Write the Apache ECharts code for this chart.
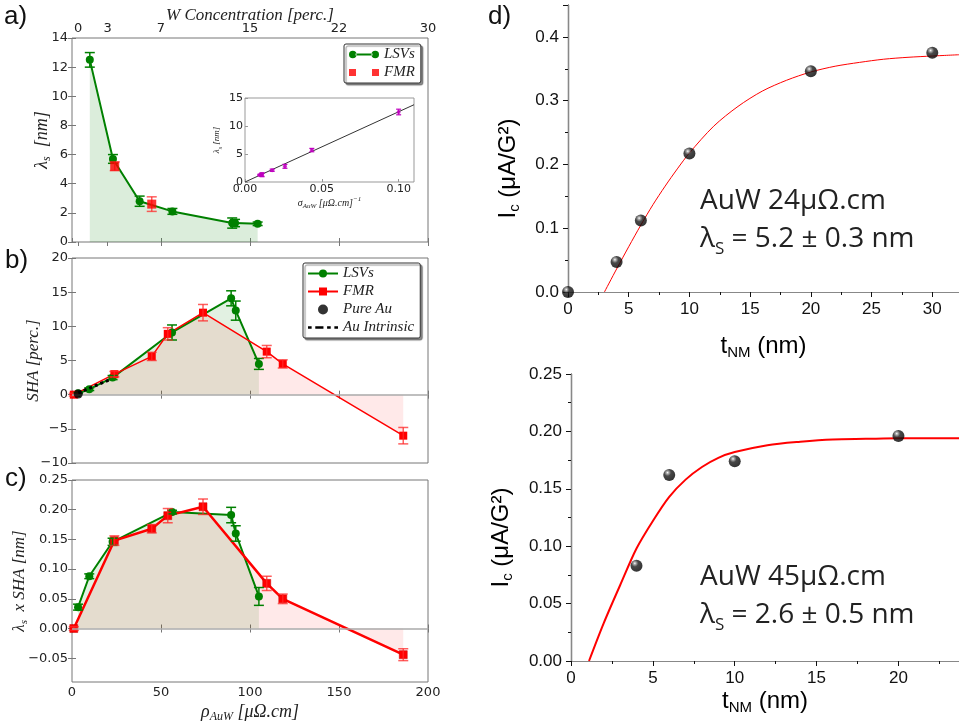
<!DOCTYPE html>
<html><head><meta charset="utf-8">
<script src="https://cdn.jsdelivr.net/npm/echarts@6/dist/echarts.min.js"></script>
<style>html,body{margin:0;padding:0;background:#fff}#c{width:959px;height:724px}</style>
</head><body><div id="c"></div>
<script>
// ---------------- data ----------------
const topTickPos = [3.4, 20, 50, 100, 150, 200];
const topTickLabels = ['0', '3', '7', '15', '22', '30'];

// panel a : spin diffusion length vs resistivity
const lsvRhoA = [10, 23, 38, 56.4, 90, 91.6, 104.3];
const lsvLambda = [12.5, 5.7, 2.8, 2.1, 1.3, 1.3, 1.25];
const lsvLambdaErr = [0.5, 0.3, 0.35, 0.2, 0.35, 0.25, 0.12];
const fmrRhoA = [24, 44.8];
const fmrLambda = [5.2, 2.6];
const fmrLambdaErr = [0.3, 0.5];

// inset : lambda vs conductivity
const insetSigma = [0.0096, 0.0109, 0.0111, 0.0177, 0.026, 0.0435, 0.1];
const insetLambda = [1.25, 1.3, 1.3, 2.1, 2.8, 5.7, 12.5];
const insetErr = [0.12, 0.25, 0.35, 0.2, 0.35, 0.3, 0.5];
const insetFitSigma = [0, 0.11];
const insetFitLambda = [0, 13.8];

// panels b & c
const lsvRho = [3.4, 9.7, 22.8, 56.2, 89.4, 92, 105];
const lsvSha = [0.2, 0.8, 2.5, 9.1, 14.1, 12.3, 4.5];
const lsvShaErr = [0.1, 0.2, 0.3, 1.1, 1.1, 1.4, 0.8];
const fmrRho = [1, 23.8, 44.8, 53.8, 73.6, 109.4, 118.4, 186.1];
const fmrSha = [0, 3.0, 5.6, 8.9, 12.0, 6.3, 4.5, -6.0];
const fmrShaErr = [0.2, 0.4, 0.6, 0.9, 1.2, 0.9, 0.6, 1.2];
const pureAuRho = [3.5];
const pureAuSha = [0.1];
const intrinsicRho = [3.5, 21.3];
const intrinsicSha = [0.25, 2.2];

const lsvProd = [0.036, 0.088, 0.146, 0.196, 0.191, 0.160, 0.054];
const lsvProdErr = [0.005, 0.004, 0.006, 0.003, 0.013, 0.013, 0.015];
const fmrProd = [0.000, 0.148, 0.168, 0.190, 0.205, 0.076, 0.050, -0.044];
const fmrProdErr = [0.003, 0.008, 0.007, 0.012, 0.013, 0.012, 0.008, 0.010];
const cTicks = [-0.05, 0, 0.05, 0.10, 0.15, 0.20, 0.25];

// panel d : AuW 24
const dThk = [0, 4, 6, 10, 20, 30];
const dIc = [0.0, 0.047, 0.112, 0.217, 0.346, 0.375];
const dFitT = [3, 4, 5, 6, 7, 8, 9, 10, 12, 14, 16, 18, 20, 22, 24, 26, 28, 30, 32.2];
const dFitIc = [0, 0.036, 0.071, 0.105, 0.137, 0.166, 0.193, 0.218, 0.260, 0.291, 0.315, 0.332, 0.345, 0.354, 0.360, 0.365, 0.368, 0.370, 0.372];

// panel e : AuW 45
const eThk = [4, 6, 10, 20];
const eIc = [0.083, 0.162, 0.174, 0.196];
const eFitT = [1.1, 2, 3, 4, 5, 6, 7, 8, 9, 10, 12, 14, 16, 18, 20, 23.7];
const eFitIc = [0, 0.033, 0.066, 0.098, 0.122, 0.143, 0.158, 0.169, 0.177, 0.182, 0.188, 0.191, 0.193, 0.1935, 0.194, 0.194];

// ---------------- helpers ----------------
const zip = (xs, ys) => xs.map((x, i) => [x, ys[i]]);
const zip3 = (xs, ys, es) => xs.map((x, i) => [x, ys[i], es[i]]);
const GREEN = '#008000', RED = '#ff0000', MAG = '#bf00bf';
const SPINE = '#777';
const serif = 'Liberation Serif';
const tickFont = {fontFamily: 'DejaVu Sans', fontSize: 13, color: '#222'};
const minus = s => String(s).replace('-', '\u2212');

function errSeries(xi, yi, xs, ys, es, color, cap, width, z) {
  return {
    type: 'custom', xAxisIndex: xi, yAxisIndex: yi, z: z, silent: true,
    data: zip3(xs, ys, es), encode: {x: 0, y: 1},
    renderItem: function (params, api) {
      const x = api.value(0), y = api.value(1), e = api.value(2);
      const t = api.coord([x, y + e]), b = api.coord([x, y - e]);
      const st = {stroke: color, lineWidth: width};
      return {type: 'group', children: [
        {type: 'line', shape: {x1: t[0], y1: t[1], x2: b[0], y2: b[1]}, style: st},
        {type: 'line', shape: {x1: t[0] - cap, y1: t[1], x2: t[0] + cap, y2: t[1]}, style: st},
        {type: 'line', shape: {x1: b[0] - cap, y1: b[1], x2: b[0] + cap, y2: b[1]}, style: st}
      ]};
    }
  };
}

function leftX(grid, opts) {
  return Object.assign({
    type: 'value', gridIndex: grid, min: 0, max: 200, interval: 50, nameMoveOverlap: false,
    axisLine: {show: false}, splitLine: {show: false},
    axisTick: {inside: true, length: 4, lineStyle: {color: SPINE}},
    axisLabel: {show: false}
  }, opts || {});
}
function leftY(grid, opts) {
  return Object.assign({
    type: 'value', gridIndex: grid, nameMoveOverlap: false,
    axisLine: {show: false}, splitLine: {show: false},
    axisTick: {inside: true, length: 4, lineStyle: {color: SPINE}},
    axisLabel: Object.assign({margin: 4}, tickFont)
  }, opts || {});
}

const italicRich = (size) => ({
  i: {fontFamily: serif, fontStyle: 'italic', fontWeight: 'normal', fontSize: size, lineHeight: size + 4, color: '#222'},
  sub: {fontFamily: serif, fontStyle: 'italic', fontWeight: 'normal', fontSize: Math.round(size * 0.65), lineHeight: Math.round(size * 0.6), verticalAlign: 'bottom', color: '#222'},
  sup: {fontFamily: serif, fontStyle: 'italic', fontWeight: 'normal', fontSize: Math.round(size * 0.65), lineHeight: Math.round(size * 0.6), verticalAlign: 'top', color: '#222'}
});
const sansRich = (size) => ({
  m: {fontFamily: 'Liberation Sans', fontWeight: 'normal', fontSize: size, lineHeight: size + 4, color: '#000'},
  sub: {fontFamily: 'Liberation Sans', fontWeight: 'normal', fontSize: Math.round(size * 0.62), lineHeight: Math.round(size * 0.5), verticalAlign: 'bottom', color: '#000'}
});
const noteRich = {
  m: {fontFamily: 'Open Sans', fontWeight: 'normal', fontSize: 28, lineHeight: 38, color: '#222'},
  sub: {fontFamily: 'Open Sans', fontWeight: 'normal', fontSize: 17, lineHeight: 12, verticalAlign: 'bottom', color: '#222'}
};
const panelFont = {fontSize: 26, fontWeight: 'normal', fontFamily: 'Liberation Sans', color: '#111'};

const ball = {type: 'radial', x: 0.36, y: 0.3, r: 0.72, colorStops: [
  {offset: 0, color: '#ffffff'}, {offset: 0.14, color: '#999'}, {offset: 0.4, color: '#1a1a1a'}, {offset: 1, color: '#000'}]};

const darkAxis = {lineStyle: {color: '#111', width: 1.2}};
const grayAxis = {lineStyle: {color: '#888', width: 1.2}};
const rightFont = {fontFamily: 'Liberation Sans', fontSize: 17, color: '#111'};

// ---------------- option ----------------
const option = {
  animation: false,
  backgroundColor: '#fff',
  title: [
    {text: 'a)', left: 4, top: 4, padding: 0, textStyle: panelFont},
    {text: 'b)', left: 5, top: 248, padding: 0, textStyle: panelFont},
    {text: 'c)', left: 5, top: 466, padding: 0, textStyle: panelFont},
    {text: 'd)', left: 488, top: 4, padding: 0, textStyle: panelFont},
    {text: '{m|AuW 24μΩ.cm}\n{m|λ}{sub|S}{m| = 5.2 ± 0.3 nm}', left: 700, top: 182, padding: 0,
     textStyle: {fontWeight: 'normal', rich: noteRich}},
    {text: '{m|AuW 45μΩ.cm}\n{m|λ}{sub|S}{m| = 2.6 ± 0.5 nm}', left: 700, top: 558, padding: 0,
     textStyle: {fontWeight: 'normal', rich: noteRich}}
  ],
  legend: [
    {left: 344, top: 44, orient: 'vertical', padding: [3, 6, 3, 5], itemGap: 3, itemWidth: 30, itemHeight: 8,
     backgroundColor: '#fff', borderColor: '#333', borderWidth: 1, borderRadius: 2,
     shadowColor: 'rgba(0,0,0,0.45)', shadowBlur: 1, shadowOffsetX: 2, shadowOffsetY: 2,
     textStyle: {fontFamily: serif, fontStyle: 'italic', fontSize: 15, color: '#222'},
     data: [
       {name: 'LSVs', icon: 'path://M0,4a4,4 0 1,0 8,0a4,4 0 1,0 -8,0Z M7,3h18v2h-18Z M24,4a4,4 0 1,0 8,0a4,4 0 1,0 -8,0Z'},
       {name: 'FMR', icon: 'path://M1,0.5h7v7h-7Z M24,0.5h7v7h-7Z'}
     ]},
    {left: 303, top: 263, orient: 'vertical', padding: [3, 6, 3, 4], itemGap: 3, itemWidth: 30, itemHeight: 10,
     backgroundColor: '#fff', borderColor: '#333', borderWidth: 1, borderRadius: 2,
     shadowColor: 'rgba(0,0,0,0.45)', shadowBlur: 1, shadowOffsetX: 2, shadowOffsetY: 2,
     textStyle: {fontFamily: serif, fontStyle: 'italic', fontSize: 15, color: '#222'},
     data: ['LSVs ', 'FMR ', {name: 'Pure Au', icon: 'circle', itemStyle: {color: '#000'}},
            {name: 'Au Intrinsic', icon: 'path://M0,0h4v3h-4Z M8,0h9v3h-9Z M21,0h4v3h-4Z M29,0h4v3h-4Z'}]}
  ],
  grid: [
    {left: 72, top: 38, width: 356, height: 204, show: true, borderColor: SPINE, borderWidth: 1, backgroundColor: 'transparent'},
    {left: 245, top: 98, width: 169, height: 84, show: true, borderColor: '#999', borderWidth: 1, backgroundColor: '#fff'},
    {left: 72, top: 258, width: 356, height: 205, show: true, borderColor: SPINE, borderWidth: 1, backgroundColor: 'transparent'},
    {left: 72, top: 480, width: 356, height: 204, show: true, borderColor: SPINE, borderWidth: 1, backgroundColor: 'transparent'},
    {left: 568, top: 5, width: 391, height: 287},
    {left: 571, top: 374, width: 388, height: 287}
  ],
  xAxis: [
    leftX(0),
    leftX(0, {position: 'top',
      axisTick: {inside: true, length: 4, lineStyle: {color: SPINE}, customValues: topTickPos},
      axisLabel: Object.assign({show: true, margin: 3, customValues: topTickPos,
        formatter: v => topTickLabels[topTickPos.indexOf(v)]}, tickFont),
      name: 'W Concentration [perc.]', nameLocation: 'middle', nameGap: 14,
      nameTextStyle: {fontFamily: serif, fontStyle: 'italic', fontSize: 17, color: '#222'}}),
    {type: 'value', gridIndex: 1, min: 0, max: 0.11, interval: 0.05, nameMoveOverlap: false,
      axisLine: {show: false}, splitLine: {show: false},
      axisTick: {inside: true, length: 3, lineStyle: {color: '#999'}},
      axisLabel: {margin: 2, fontFamily: 'DejaVu Sans', fontSize: 11, color: '#222', formatter: v => v.toFixed(2), showMaxLabel: false},
      name: '{i|σ}{sub|AuW}{i| [μΩ.cm]}{sup|−1}', nameLocation: 'middle', nameGap: 14,
      nameTextStyle: {rich: italicRich(10)}},
    leftX(2),
    leftX(2, {position: 'top'}),
    leftX(3, {axisLabel: Object.assign({show: true, margin: 4}, tickFont),
      name: '{i|ρ}{sub|AuW}{i| [μΩ.cm]}', nameLocation: 'middle', nameGap: 19,
      nameTextStyle: {rich: italicRich(18)}}),
    leftX(3, {position: 'top'}),
    {type: 'value', gridIndex: 4, min: 0, max: 32.2, interval: 5,
      axisLine: darkAxis, splitLine: {show: false},
      axisTick: {length: 5, lineStyle: {color: '#111'}},
      minorTick: {show: true, splitNumber: 2, length: 3, lineStyle: {color: '#111'}},
      axisLabel: Object.assign({margin: 9, showMaxLabel: false}, rightFont),
      name: '{m|t}{sub|NM}{m| (nm)}', nameLocation: 'middle', nameGap: 40,
      nameTextStyle: {rich: sansRich(24)}},
    {type: 'value', gridIndex: 4, position: 'top', min: 0, max: 32.2, interval: 5,
      axisLine: grayAxis, splitLine: {show: false},
      axisTick: {inside: true, length: 5, lineStyle: {color: '#111'}},
      minorTick: {show: true, splitNumber: 2, length: 3, lineStyle: {color: '#111'}},
      axisLabel: {show: false}},
    {type: 'value', gridIndex: 5, min: 0, max: 23.7, interval: 5,
      axisLine: darkAxis, splitLine: {show: false},
      axisTick: {length: 5, lineStyle: {color: '#111'}},
      minorTick: {show: true, splitNumber: 2, length: 3, lineStyle: {color: '#111'}},
      axisLabel: Object.assign({margin: 9, showMaxLabel: false}, rightFont),
      name: '{m|t}{sub|NM}{m| (nm)}', nameLocation: 'middle', nameGap: 26,
      nameTextStyle: {rich: sansRich(24)}},
    {type: 'value', gridIndex: 5, position: 'top', min: 0, max: 23.7, interval: 5,
      axisLine: grayAxis, splitLine: {show: false},
      axisTick: {inside: true, length: 5, lineStyle: {color: '#111'}},
      minorTick: {show: true, splitNumber: 2, length: 3, lineStyle: {color: '#111'}},
      axisLabel: {show: false}}
  ],
  yAxis: [
    leftY(0, {min: 0, max: 14, interval: 2,
      name: '{i|λ}{sub|s}{i|  [nm]}', nameLocation: 'middle', nameGap: 19,
      nameTextStyle: {rich: italicRich(18)}}),
    leftY(0, {position: 'right', min: 0, max: 14, interval: 2, axisLabel: {show: false}}),
    {type: 'value', gridIndex: 1, min: 0, max: 15, interval: 5, nameMoveOverlap: false,
      axisLine: {show: false}, splitLine: {show: false},
      axisTick: {inside: true, length: 3, lineStyle: {color: '#999'}},
      axisLabel: {margin: 2, fontFamily: 'DejaVu Sans', fontSize: 11, color: '#222'},
      name: '{i|λ}{sub|s}{i| [nm]}', nameLocation: 'middle', nameGap: 22,
      nameTextStyle: {rich: italicRich(9)}},
    leftY(2, {min: -10, max: 20, interval: 5,
      axisLabel: Object.assign({margin: 4, formatter: v => minus(v)}, tickFont),
      name: '{i|SHA [perc.]}', nameLocation: 'middle', nameGap: 28,
      nameTextStyle: {rich: italicRich(17)}}),
    leftY(2, {position: 'right', min: -10, max: 20, interval: 5, axisLabel: {show: false}}),
    leftY(3, {min: -0.09, max: 0.25,
      axisTick: {inside: true, length: 4, lineStyle: {color: SPINE}, customValues: cTicks},
      axisLabel: Object.assign({margin: 4, customValues: cTicks,
        formatter: v => (v < 0 ? '\u2212' : '') + Math.abs(v).toFixed(2)}, tickFont),
      name: '{i|λ}{sub|s}{i|  x SHA [nm]}', nameLocation: 'middle', nameGap: 42,
      nameTextStyle: {rich: italicRich(17)}}),
    leftY(3, {position: 'right', min: -0.09, max: 0.25,
      axisTick: {inside: true, length: 4, lineStyle: {color: SPINE}, customValues: cTicks},
      axisLabel: {show: false}}),
    {type: 'value', gridIndex: 4, min: 0, max: 0.45, interval: 0.1,
      axisLine: darkAxis, splitLine: {show: false},
      axisTick: {length: 5, lineStyle: {color: '#111'}},
      minorTick: {show: true, splitNumber: 2, length: 3, lineStyle: {color: '#111'}},
      axisLabel: Object.assign({margin: 9, showMaxLabel: false, formatter: v => v.toFixed(1)}, rightFont),
      name: '{m|I}{sub|c}{m| (μA/G²)}', nameLocation: 'middle', nameGap: 46,
      nameTextStyle: {rich: sansRich(24), padding: [0, 40, 0, 0]}},
    {type: 'value', gridIndex: 4, position: 'right', min: 0, max: 0.45, interval: 0.1,
      axisLine: grayAxis, splitLine: {show: false},
      axisTick: {inside: true, length: 5, lineStyle: {color: '#111'}},
      minorTick: {show: true, splitNumber: 2, length: 3, lineStyle: {color: '#111'}},
      axisLabel: {show: false}},
    {type: 'value', gridIndex: 5, min: 0, max: 0.25, interval: 0.05,
      axisLine: darkAxis, splitLine: {show: false},
      axisTick: {length: 5, lineStyle: {color: '#111'}},
      minorTick: {show: true, splitNumber: 2, length: 3, lineStyle: {color: '#111'}},
      axisLabel: Object.assign({margin: 9, formatter: v => v.toFixed(2)}, rightFont),
      name: '{m|I}{sub|c}{m| (μA/G²)}', nameLocation: 'middle', nameGap: 56,
      nameTextStyle: {rich: sansRich(24), padding: [0, 40, 0, 0]}},
    {type: 'value', gridIndex: 5, position: 'right', min: 0, max: 0.25, interval: 0.05,
      axisLine: grayAxis, splitLine: {show: false},
      axisTick: {inside: true, length: 5, lineStyle: {color: '#111'}},
      minorTick: {show: true, splitNumber: 2, length: 3, lineStyle: {color: '#111'}},
      axisLabel: {show: false}}
  ],
  series: [
    // ---- panel a ----
    {type: 'line', name: 'LSVs', xAxisIndex: 0, yAxisIndex: 0, data: zip(lsvRhoA, lsvLambda),
      symbol: 'circle', symbolSize: 8, showAllSymbol: true, color: GREEN, z: 3,
      lineStyle: {width: 2, color: GREEN}, itemStyle: {color: GREEN},
      areaStyle: {color: 'rgba(0,128,0,0.2)', origin: 'auto'}},
    errSeries(0, 0, lsvRhoA, lsvLambda, lsvLambdaErr, GREEN, 5, 1.5, 4),
    {type: 'scatter', name: 'FMR', xAxisIndex: 0, yAxisIndex: 0, data: zip(fmrRhoA, fmrLambda),
      symbol: 'rect', symbolSize: 9, color: RED, itemStyle: {color: RED}, z: 5},
    errSeries(0, 0, fmrRhoA, fmrLambda, fmrLambdaErr, 'rgba(255,40,40,0.75)', 5, 1.5, 4),
    // ---- inset ----
    {type: 'line', name: 'fit', xAxisIndex: 2, yAxisIndex: 2, data: zip(insetFitSigma, insetFitLambda),
      symbol: 'none', lineStyle: {width: 1, color: '#333'}, z: 3, silent: true},
    errSeries(2, 2, insetSigma, insetLambda, insetErr, MAG, 2.5, 1.2, 4),
    {type: 'scatter', name: 'inset', xAxisIndex: 2, yAxisIndex: 2, data: zip(insetSigma, insetLambda),
      symbol: 'circle', symbolSize: 4, itemStyle: {color: MAG}, z: 5},
    // ---- panel b ----
    {type: 'line', name: 'lsvAreaB', xAxisIndex: 3, yAxisIndex: 3, data: zip(lsvRho, lsvSha), silent: true,
      symbol: 'none', lineStyle: {width: 0, opacity: 0}, areaStyle: {color: 'rgba(0,128,0,0.16)', origin: 'auto'}, z: 1},
    {type: 'line', name: 'fmrAreaB', xAxisIndex: 3, yAxisIndex: 3, data: zip(fmrRho, fmrSha), silent: true,
      symbol: 'none', lineStyle: {width: 0, opacity: 0}, areaStyle: {color: 'rgba(255,0,0,0.12)', origin: 'auto'}, z: 1,
      markLine: {silent: true, symbol: 'none', label: {show: false}, lineStyle: {color: '#aaa', width: 1.5, type: 'solid'}, data: [{yAxis: 0}]}},
    {type: 'line', name: 'LSVs ', xAxisIndex: 3, yAxisIndex: 3, data: zip(lsvRho, lsvSha),
      symbol: 'circle', symbolSize: 8, showAllSymbol: true, color: GREEN, z: 3,
      lineStyle: {width: 2, color: GREEN}, itemStyle: {color: GREEN}},
    errSeries(3, 3, lsvRho, lsvSha, lsvShaErr, GREEN, 5, 1.5, 4),
    {type: 'line', name: 'FMR ', xAxisIndex: 3, yAxisIndex: 3, data: zip(fmrRho, fmrSha),
      symbol: 'rect', symbolSize: 8, showAllSymbol: true, color: RED, z: 3,
      lineStyle: {width: 1.5, color: RED}, itemStyle: {color: RED}},
    errSeries(3, 3, fmrRho, fmrSha, fmrShaErr, 'rgba(255,40,40,0.75)', 5, 1.5, 4),
    {type: 'line', name: 'Au Intrinsic', xAxisIndex: 3, yAxisIndex: 3, data: zip(intrinsicRho, intrinsicSha),
      symbol: 'none', color: '#000', lineStyle: {width: 3, color: '#000', type: [3, 3]}, z: 5},
    {type: 'scatter', name: 'Pure Au', xAxisIndex: 3, yAxisIndex: 3, data: zip(pureAuRho, pureAuSha),
      symbol: 'circle', symbolSize: 9, color: '#000', itemStyle: {color: '#000'}, z: 6},
    // ---- panel c ----
    {type: 'line', name: 'lsvAreaC', xAxisIndex: 5, yAxisIndex: 5, data: zip(lsvRho, lsvProd), silent: true,
      symbol: 'none', lineStyle: {width: 0, opacity: 0}, areaStyle: {color: 'rgba(0,128,0,0.16)', origin: 'auto'}, z: 1},
    {type: 'line', name: 'fmrAreaC', xAxisIndex: 5, yAxisIndex: 5, data: zip(fmrRho, fmrProd), silent: true,
      symbol: 'none', lineStyle: {width: 0, opacity: 0}, areaStyle: {color: 'rgba(255,0,0,0.12)', origin: 'auto'}, z: 1,
      markLine: {silent: true, symbol: 'none', label: {show: false}, lineStyle: {color: '#aaa', width: 1.5, type: 'solid'}, data: [{yAxis: 0}]}},
    {type: 'line', name: 'LSVs  ', xAxisIndex: 5, yAxisIndex: 5, data: zip(lsvRho, lsvProd),
      symbol: 'circle', symbolSize: 8, showAllSymbol: true, color: GREEN, z: 3,
      lineStyle: {width: 2, color: GREEN}, itemStyle: {color: GREEN}},
    errSeries(5, 5, lsvRho, lsvProd, lsvProdErr, GREEN, 5, 1.5, 4),
    {type: 'line', name: 'FMR  ', xAxisIndex: 5, yAxisIndex: 5, data: zip(fmrRho, fmrProd),
      symbol: 'rect', symbolSize: 8, showAllSymbol: true, color: RED, z: 3,
      lineStyle: {width: 2.5, color: RED}, itemStyle: {color: RED, borderColor: '#c00', borderWidth: 0.5}},
    errSeries(5, 5, fmrRho, fmrProd, fmrProdErr, 'rgba(255,40,40,0.75)', 5, 1.5, 4),
    // ---- panel d ----
    {type: 'line', name: 'fitD', xAxisIndex: 7, yAxisIndex: 7, data: zip(dFitT, dFitIc), smooth: 0.3,
      symbol: 'none', lineStyle: {width: 1, color: RED}, z: 3, silent: true},
    {type: 'scatter', name: 'dataD', xAxisIndex: 7, yAxisIndex: 7, data: zip(dThk, dIc),
      symbol: 'circle', symbolSize: 12, itemStyle: {color: ball}, z: 4},
    // ---- panel e ----
    {type: 'line', name: 'fitE', xAxisIndex: 9, yAxisIndex: 9, data: zip(eFitT, eFitIc), smooth: 0.3,
      symbol: 'none', lineStyle: {width: 2, color: RED}, z: 3, silent: true},
    {type: 'scatter', name: 'dataE', xAxisIndex: 9, yAxisIndex: 9, data: zip(eThk, eIc),
      symbol: 'circle', symbolSize: 12, itemStyle: {color: ball}, z: 4}
  ]
};
const chart = echarts.init(document.getElementById('c'), null, {renderer: 'canvas'});
chart.setOption(option);
</script>
</body></html>
